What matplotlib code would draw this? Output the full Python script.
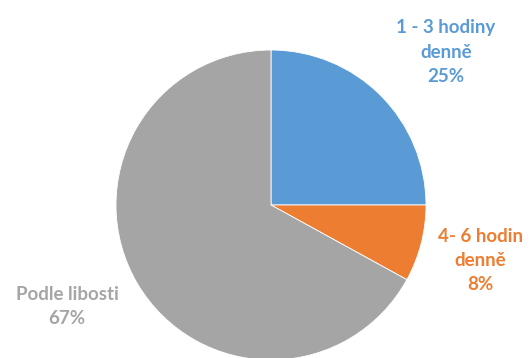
import matplotlib
matplotlib.use("Agg")
import matplotlib.pyplot as plt

# time spent per day
labels = ["1 - 3 hodiny\ndenně", "4- 6 hodin\ndenně", "Podle libosti"]
values = [25, 8, 67]
colors = ["#5B9BD5", "#ED7D31", "#A5A5A5"]
label_pos = [(446, 306), (480, 98), (67, 52)]

W, H = 531, 358
fig = plt.figure(figsize=(W / 100, H / 100), dpi=100)
ax = fig.add_axes([0, 0, 1, 1])

ax.pie(values, colors=colors, startangle=90, counterclock=False,
       center=(271, H - 205), radius=155, frame=True,
       wedgeprops=dict(linewidth=0.6, edgecolor="white"))
ax.set_xlim(0, W)
ax.set_ylim(0, H)
ax.set_aspect("equal")
ax.axis("off")

for lab, val, col, (x, y) in zip(labels, values, colors, label_pos):
    ax.text(x, y, f"{lab}\n{val}%", color=col, ha="center", va="center",
            fontsize=13.5, fontweight="bold", family="Lato", linespacing=1.5)

fig.savefig("out.png", dpi=100)
